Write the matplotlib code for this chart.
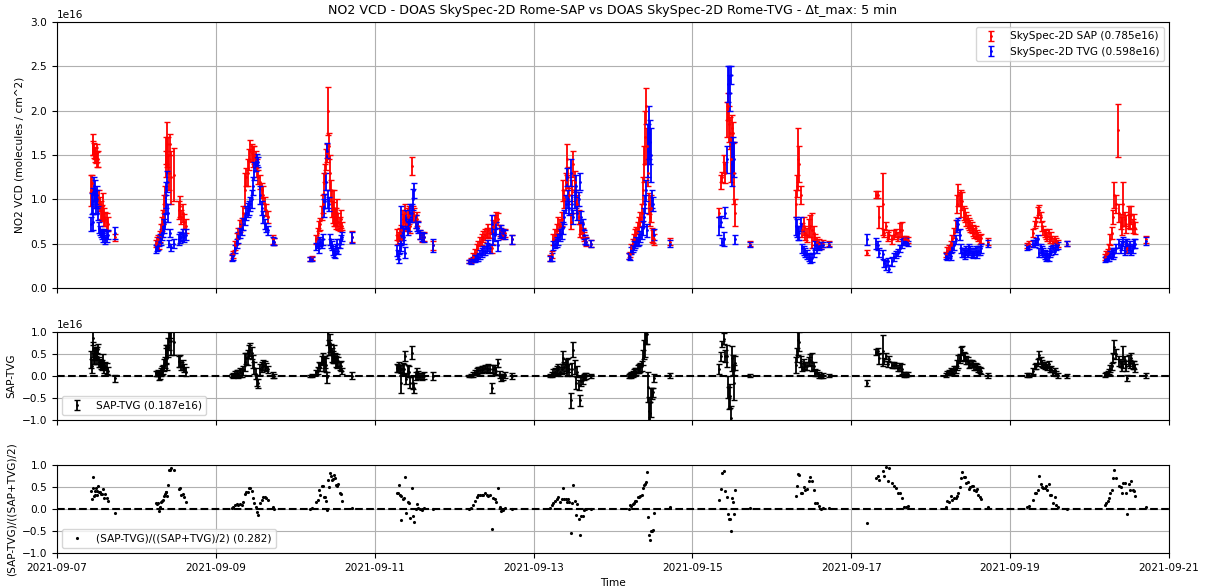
#NO2 VCD intercomparison: SkySpec-2D Rome-SAP vs Rome-TVG, absolute and relative differences
import numpy as np
import pandas as pd
import matplotlib
matplotlib.use('Agg')
import matplotlib.pyplot as plt
import matplotlib.dates as mdates

plt.rcParams['font.size'] = 7.6

nan = np.nan
SCALE = 1e16

DAYS = ['2021-09-07', '2021-09-08', '2021-09-09', '2021-09-10', '2021-09-11', '2021-09-12', '2021-09-13',
        '2021-09-14', '2021-09-15', '2021-09-16', '2021-09-17', '2021-09-18', '2021-09-19', '2021-09-20']

# UTC hour of each matched pair (dt <= 5 min), one list per day
HOURS = [
    [10.2, 10.5, 10.8, 11.0, 11.2, 11.4, 11.6, 11.8, 12.0, 12.2, 12.5, 12.8, 13.1, 13.4, 13.7, 14.0, 14.3, 14.6, 15.0, 15.3, 17.5],
    [5.8, 6.1, 6.4, 6.7, 7.0, 7.3, 7.6, 7.9, 8.2, 8.5, 8.8, 9.0, 9.2, 9.5, 9.8, 10.1, 10.6, 11.4, 12.8, 13.2, 13.6, 14.0, 14.5, 14.9],
    [4.8, 5.3, 5.8, 6.3, 6.8, 7.3, 7.8, 8.3, 8.8, 9.2, 9.6, 10.0, 10.4, 10.8, 11.2, 11.6, 12.0, 12.4, 12.8, 13.3, 13.8, 14.3, 14.8, 15.3, 15.8, 17.2, 17.6],
    [4.6, 5.2, 6.4, 6.8, 7.2, 7.6, 8.0, 8.4, 8.8, 9.1, 9.4, 9.7, 10.0, 10.3, 10.6, 10.9, 11.2, 11.5, 11.8, 12.1, 12.4, 12.7, 13.0, 13.4, 13.8, 14.2, 17.1],
    [6.6, 6.9, 7.2, 7.5, 7.8, 8.1, 8.5, 8.9, 9.2, 9.6, 10.0, 10.4, 10.8, 11.2, 11.6, 12.0, 12.4, 12.8, 13.2, 13.8, 14.3, 15.0, 17.5],
    [4.6, 5.2, 5.8, 6.3, 6.8, 7.3, 7.8, 8.3, 8.8, 9.3, 9.8, 10.3, 10.8, 11.3, 11.8, 12.3, 12.8, 13.3, 13.8, 14.3, 14.8, 15.4, 17.4],
    [5.0, 5.5, 6.0, 6.5, 7.0, 7.5, 8.0, 8.5, 8.9, 9.3, 9.7, 10.0, 10.4, 10.8, 11.2, 11.6, 12.0, 12.4, 12.8, 13.2, 13.6, 14.0, 14.4, 14.8, 15.2, 15.6, 16.0, 17.3],
    [4.7, 5.1, 5.5, 5.9, 6.3, 6.7, 7.1, 7.5, 7.9, 8.3, 8.7, 9.1, 9.4, 9.7, 10.0, 10.2, 10.5, 10.8, 11.1, 11.4, 11.8, 12.1, 12.5, 17.2],
    [8.0, 8.5, 9.0, 9.5, 10.0, 10.4, 10.7, 11.0, 11.3, 11.6, 11.9, 12.2, 12.6, 12.9, 17.3],
    [7.3, 7.6, 8.0, 8.3, 8.7, 9.1, 9.6, 10.1, 10.6, 11.1, 11.6, 12.1, 12.6, 13.1, 13.6, 14.2, 14.8, 15.5, 17.3],
    [4.9, 7.6, 8.0, 8.4, 9.5, 10.0, 10.5, 11.0, 11.5, 12.2, 12.8, 13.4, 14.0, 14.6, 15.2, 15.8, 16.4, 17.2],
    [4.5, 5.0, 5.5, 6.0, 6.5, 7.0, 7.5, 8.0, 8.4, 8.8, 9.2, 9.6, 10.0, 10.4, 10.8, 11.2, 11.6, 12.0, 12.4, 12.8, 13.2, 13.6, 14.0, 14.4, 14.8, 15.2, 17.4],
    [5.0, 5.6, 7.0, 7.4, 7.8, 8.3, 8.8, 9.2, 9.6, 10.0, 10.4, 10.8, 11.2, 11.6, 12.0, 12.5, 13.0, 13.5, 14.0, 14.6, 17.1],
    [4.7, 5.1, 5.5, 5.9, 6.3, 6.7, 7.1, 7.5, 7.9, 8.6, 9.0, 9.4, 9.8, 10.2, 10.6, 11.0, 11.4, 11.8, 12.2, 12.6, 13.0, 13.4, 13.8, 17.0],
]

# Rome-SAP VCD [1e16 molec/cm^2]
SAP = [
    [1.10, 1.18, 1.62, 1.58, 1.55, 1.52, 1.50, 1.48, 1.45, 1.52, 1.46, 1.00, 0.95, 0.88, 0.85, 0.92, 0.80, 0.78, 0.75, 0.72, 0.57],
    [0.50, 0.52, 0.55, 0.50, 0.58, 0.65, 0.72, 0.80, 0.95, 1.05, 1.40, 1.55, 1.62, 1.50, 1.30, 1.62, 1.25, 1.28, 0.88, 0.92, 0.80, 0.85, 0.75, 0.70],
    [0.35, 0.38, 0.48, 0.56, 0.62, 0.70, 0.72, 0.85, 1.10, 1.25, 1.30, 1.45, 1.55, 1.52, 1.48, 1.50, 1.45, 1.35, 1.25, 1.20, 1.10, 1.05, 0.95, 0.88, 0.80, 0.55, 0.52],
    [0.33, 0.34, 0.55, 0.62, 0.70, 0.72, 0.85, 0.95, 1.18, 1.30, 1.45, 1.52, 2.00, 1.60, 1.30, 1.10, 0.95, 0.85, 0.90, 0.80, 0.78, 0.85, 0.75, 0.72, 0.78, 0.70, 0.58],
    [0.60, 0.55, 0.58, 0.62, 0.55, 0.65, 0.78, 0.75, 0.85, 0.72, 0.80, 0.82, 0.70, 1.38, 0.85, 0.82, 0.75, 0.78, 0.70, 0.60, 0.57, 0.58, 0.48],
    [0.30, 0.31, 0.35, 0.40, 0.45, 0.48, 0.52, 0.55, 0.58, 0.60, 0.62, 0.65, 0.62, 0.45, 0.70, 0.75, 0.80, 0.78, 0.65, 0.62, 0.60, 0.62, 0.55],
    [0.34, 0.38, 0.55, 0.60, 0.65, 0.72, 0.70, 0.78, 1.10, 1.00, 1.20, 1.45, 1.25, 1.05, 0.75, 1.10, 1.40, 1.20, 1.00, 0.95, 0.80, 0.65, 0.68, 0.62, 0.58, 0.55, 0.52, 0.50],
    [0.36, 0.38, 0.45, 0.50, 0.55, 0.60, 0.62, 0.68, 0.72, 0.78, 0.85, 1.10, 1.40, 1.70, 2.05, 1.60, 1.30, 0.95, 0.80, 0.90, 0.60, 0.58, 0.55, 0.52],
    [0.85, 1.20, 1.25, 1.40, 1.30, 1.90, 2.05, 1.85, 1.75, 1.45, 1.80, 1.75, 1.30, 0.85, 0.50],
    [0.95, 1.15, 1.45, 1.40, 1.05, 0.65, 0.70, 0.62, 0.60, 0.68, 0.70, 0.65, 0.62, 0.55, 0.52, 0.50, 0.48, 0.50, 0.50],
    [0.40, 1.05, 1.05, 0.80, 0.95, 0.62, 0.70, 0.58, 0.60, 0.55, 0.60, 0.62, 0.58, 0.65, 0.65, 0.55, 0.55, 0.54],
    [0.38, 0.42, 0.45, 0.48, 0.55, 0.62, 0.70, 0.95, 1.05, 1.00, 0.95, 0.98, 0.85, 0.82, 0.78, 0.75, 0.72, 0.70, 0.68, 0.65, 0.62, 0.64, 0.60, 0.58, 0.55, 0.56, 0.52],
    [0.48, 0.50, 0.62, 0.72, 0.75, 0.85, 0.88, 0.80, 0.70, 0.65, 0.62, 0.60, 0.58, 0.62, 0.55, 0.58, 0.52, 0.55, 0.52, 0.50, 0.50],
    [0.35, 0.38, 0.40, 0.45, 0.55, 0.62, 0.80, 1.05, 0.95, 1.78, 0.85, 0.75, 0.70, 0.95, 0.78, 0.72, 0.45, 0.80, 0.75, 0.82, 0.70, 0.75, 0.68, 0.55],
]

# Rome-TVG VCD [1e16 molec/cm^2]
TVG = [
    [0.72, 0.95, 0.75, 0.98, 1.15, 1.10, 1.00, 0.92, 1.05, 1.00, 0.85, 0.68, 0.65, 0.62, 0.60, 0.58, 0.62, 0.55, 0.58, 0.60, 0.62],
    [0.44, 0.46, 0.48, 0.52, 0.56, 0.55, 0.60, 0.65, 0.70, 0.75, 0.95, 1.05, 1.20, 0.85, 0.50, 0.62, 0.46, 0.50, 0.55, 0.57, 0.58, 0.60, 0.57, 0.60],
    [0.34, 0.36, 0.44, 0.50, 0.57, 0.62, 0.66, 0.72, 0.78, 0.85, 0.88, 0.90, 0.95, 1.00, 1.15, 1.32, 1.40, 1.45, 1.42, 1.05, 0.90, 0.80, 0.72, 0.68, 0.65, 0.53, 0.52],
    [0.33, 0.33, 0.47, 0.50, 0.45, 0.52, 0.50, 0.55, 0.90, 0.98, 1.20, 1.55, 1.00, 0.95, 0.55, 0.50, 0.48, 0.42, 0.40, 0.38, 0.45, 0.50, 0.42, 0.50, 0.55, 0.58, 0.57],
    [0.42, 0.38, 0.33, 0.45, 0.70, 0.48, 0.62, 0.58, 0.40, 0.78, 0.68, 0.72, 0.85, 0.85, 1.00, 1.10, 0.75, 0.70, 0.68, 0.60, 0.58, 0.57, 0.48],
    [0.30, 0.30, 0.32, 0.33, 0.34, 0.35, 0.38, 0.40, 0.42, 0.42, 0.45, 0.48, 0.45, 0.72, 0.55, 0.60, 0.68, 0.48, 0.62, 0.65, 0.62, 0.60, 0.55],
    [0.33, 0.35, 0.48, 0.50, 0.52, 0.55, 0.60, 0.62, 0.68, 0.80, 0.95, 1.25, 1.00, 0.90, 1.30, 0.95, 0.80, 1.00, 1.15, 0.85, 1.00, 1.20, 0.80, 0.72, 0.60, 0.55, 0.52, 0.50],
    [0.36, 0.35, 0.42, 0.45, 0.48, 0.50, 0.52, 0.52, 0.55, 0.58, 0.62, 0.68, 0.80, 0.95, 1.10, 0.65, 1.55, 1.75, 1.65, 1.50, 1.00, 0.95, 0.60, 0.50],
    [0.70, 0.75, 0.52, 0.55, 0.85, 1.45, 2.30, 2.35, 2.20, 2.40, 1.40, 1.50, 1.45, 0.55, 0.49],
    [0.70, 0.68, 0.62, 0.62, 0.72, 0.45, 0.42, 0.40, 0.38, 0.35, 0.33, 0.34, 0.40, 0.48, 0.45, 0.47, 0.48, 0.49, 0.49],
    [0.55, 0.50, 0.48, 0.40, 0.38, 0.28, 0.25, 0.30, 0.22, 0.30, 0.35, 0.38, 0.40, 0.45, 0.50, 0.52, 0.52, 0.50],
    [0.36, 0.35, 0.38, 0.36, 0.45, 0.48, 0.55, 0.70, 0.72, 0.60, 0.45, 0.40, 0.40, 0.38, 0.42, 0.40, 0.45, 0.42, 0.40, 0.38, 0.40, 0.42, 0.38, 0.42, 0.42, 0.45, 0.50],
    [0.46, 0.47, 0.50, 0.50, 0.52, 0.55, 0.40, 0.45, 0.42, 0.40, 0.38, 0.35, 0.37, 0.35, 0.40, 0.42, 0.45, 0.42, 0.47, 0.48, 0.50],
    [0.32, 0.33, 0.33, 0.35, 0.38, 0.40, 0.38, 0.40, 0.45, nan, 0.50, 0.45, 0.48, 0.52, 0.42, 0.50, 0.50, 0.45, 0.48, 0.42, 0.45, 0.50, 0.50, 0.53],
]

SAP_ERR = [
    [0.18, 0.10, 0.12, 0.08, 0.08, 0.07, 0.08, 0.07, 0.08, 0.10, 0.09, 0.10, 0.08, 0.10, 0.09, 0.15, 0.10, 0.08, 0.10, 0.08, 0.04],
    [0.04, 0.05, 0.05, 0.06, 0.06, 0.07, 0.08, 0.08, 0.10, 0.10, 0.15, 0.15, 0.25, 0.20, 0.20, 0.12, 0.30, 0.30, 0.10, 0.12, 0.08, 0.10, 0.08, 0.08],
    [0.03, 0.04, 0.05, 0.06, 0.06, 0.07, 0.07, 0.08, 0.20, 0.10, 0.15, 0.12, 0.12, 0.10, 0.12, 0.10, 0.10, 0.10, 0.08, 0.08, 0.08, 0.10, 0.08, 0.07, 0.07, 0.05, 0.04],
    [0.02, 0.02, 0.05, 0.06, 0.06, 0.07, 0.08, 0.10, 0.12, 0.10, 0.12, 0.10, 0.27, 0.15, 0.20, 0.12, 0.15, 0.12, 0.20, 0.10, 0.12, 0.15, 0.10, 0.08, 0.10, 0.05, 0.06],
    [0.06, 0.05, 0.05, 0.06, 0.05, 0.06, 0.10, 0.08, 0.10, 0.08, 0.10, 0.10, 0.08, 0.10, 0.08, 0.08, 0.07, 0.08, 0.06, 0.05, 0.05, 0.05, 0.05],
    [0.02, 0.03, 0.04, 0.04, 0.05, 0.05, 0.05, 0.06, 0.06, 0.06, 0.06, 0.07, 0.06, 0.05, 0.07, 0.07, 0.06, 0.07, 0.06, 0.06, 0.05, 0.05, 0.05],
    [0.03, 0.04, 0.06, 0.06, 0.07, 0.08, 0.08, 0.08, 0.12, 0.10, 0.10, 0.17, 0.12, 0.10, 0.08, 0.12, 0.15, 0.12, 0.10, 0.10, 0.08, 0.07, 0.07, 0.06, 0.05, 0.05, 0.05, 0.04],
    [0.03, 0.03, 0.05, 0.05, 0.06, 0.06, 0.07, 0.07, 0.08, 0.08, 0.10, 0.15, 0.20, 0.30, 0.20, 0.20, 0.15, 0.12, 0.10, 0.15, 0.08, 0.07, 0.06, 0.04],
    [0.05, 0.08, 0.06, 0.10, 0.12, 0.20, 0.15, 0.20, 0.18, 0.25, 0.15, 0.12, 0.35, 0.15, 0.03],
    [0.15, 0.12, 0.35, 0.20, 0.10, 0.08, 0.10, 0.08, 0.08, 0.10, 0.12, 0.20, 0.08, 0.06, 0.05, 0.05, 0.04, 0.04, 0.03],
    [0.03, 0.04, 0.04, 0.12, 0.35, 0.05, 0.05, 0.05, 0.05, 0.05, 0.05, 0.05, 0.05, 0.08, 0.10, 0.04, 0.04, 0.03],
    [0.03, 0.04, 0.04, 0.05, 0.05, 0.06, 0.07, 0.10, 0.12, 0.08, 0.15, 0.10, 0.08, 0.08, 0.08, 0.07, 0.07, 0.07, 0.06, 0.06, 0.06, 0.06, 0.05, 0.05, 0.05, 0.05, 0.04],
    [0.03, 0.03, 0.05, 0.04, 0.05, 0.06, 0.06, 0.06, 0.06, 0.05, 0.05, 0.05, 0.05, 0.05, 0.04, 0.05, 0.04, 0.04, 0.04, 0.04, 0.03],
    [0.03, 0.04, 0.04, 0.05, 0.06, 0.07, 0.08, 0.15, 0.10, 0.30, 0.10, 0.08, 0.10, 0.25, 0.08, 0.10, 0.05, 0.12, 0.08, 0.10, 0.08, 0.08, 0.07, 0.04],
]

TVG_ERR = [
    [0.08, 0.12, 0.10, 0.15, 0.10, 0.12, 0.10, 0.08, 0.10, 0.10, 0.08, 0.06, 0.05, 0.05, 0.05, 0.06, 0.05, 0.05, 0.06, 0.05, 0.07],
    [0.04, 0.04, 0.05, 0.05, 0.05, 0.06, 0.06, 0.07, 0.08, 0.08, 0.10, 0.15, 0.12, 0.10, 0.04, 0.04, 0.04, 0.05, 0.06, 0.06, 0.05, 0.06, 0.05, 0.06],
    [0.03, 0.04, 0.05, 0.05, 0.06, 0.06, 0.06, 0.07, 0.07, 0.08, 0.08, 0.08, 0.08, 0.10, 0.10, 0.10, 0.08, 0.06, 0.06, 0.10, 0.08, 0.07, 0.06, 0.05, 0.05, 0.04, 0.04],
    [0.02, 0.02, 0.04, 0.05, 0.05, 0.05, 0.05, 0.06, 0.10, 0.08, 0.10, 0.08, 0.10, 0.08, 0.06, 0.05, 0.05, 0.05, 0.05, 0.04, 0.05, 0.05, 0.04, 0.05, 0.05, 0.05, 0.06],
    [0.06, 0.05, 0.05, 0.06, 0.22, 0.06, 0.08, 0.08, 0.06, 0.10, 0.08, 0.08, 0.10, 0.10, 0.12, 0.08, 0.07, 0.06, 0.06, 0.05, 0.05, 0.05, 0.07],
    [0.02, 0.03, 0.03, 0.04, 0.04, 0.04, 0.05, 0.05, 0.05, 0.05, 0.06, 0.06, 0.05, 0.10, 0.06, 0.07, 0.07, 0.06, 0.06, 0.06, 0.05, 0.05, 0.05],
    [0.03, 0.04, 0.05, 0.05, 0.06, 0.06, 0.07, 0.07, 0.07, 0.08, 0.10, 0.10, 0.10, 0.08, 0.15, 0.10, 0.08, 0.10, 0.12, 0.08, 0.08, 0.10, 0.07, 0.06, 0.05, 0.05, 0.04, 0.04],
    [0.03, 0.03, 0.04, 0.04, 0.05, 0.05, 0.05, 0.05, 0.06, 0.06, 0.07, 0.08, 0.10, 0.10, 0.12, 0.07, 0.30, 0.30, 0.25, 0.30, 0.10, 0.08, 0.06, 0.04],
    [0.10, 0.06, 0.04, 0.08, 0.06, 0.15, 0.20, 0.15, 0.20, 0.10, 0.25, 0.20, 0.20, 0.05, 0.03],
    [0.10, 0.10, 0.08, 0.08, 0.08, 0.05, 0.05, 0.05, 0.05, 0.05, 0.05, 0.05, 0.05, 0.05, 0.05, 0.04, 0.04, 0.03, 0.03],
    [0.06, 0.06, 0.05, 0.05, 0.05, 0.04, 0.05, 0.04, 0.04, 0.05, 0.05, 0.04, 0.04, 0.04, 0.05, 0.04, 0.04, 0.03],
    [0.03, 0.03, 0.04, 0.04, 0.04, 0.05, 0.05, 0.07, 0.07, 0.06, 0.05, 0.05, 0.05, 0.05, 0.05, 0.05, 0.05, 0.05, 0.05, 0.04, 0.05, 0.05, 0.04, 0.05, 0.05, 0.05, 0.04],
    [0.03, 0.03, 0.04, 0.04, 0.04, 0.05, 0.05, 0.05, 0.05, 0.05, 0.05, 0.05, 0.05, 0.05, 0.05, 0.05, 0.04, 0.04, 0.04, 0.04, 0.03],
    [0.03, 0.03, 0.03, 0.04, 0.04, 0.05, 0.05, 0.05, 0.05, nan, 0.05, 0.05, 0.05, 0.05, 0.05, 0.05, 0.05, 0.05, 0.05, 0.05, 0.05, 0.05, 0.05, 0.04],
]

LABEL_SAP = 'SkySpec-2D SAP (0.785e16)'
LABEL_TVG = 'SkySpec-2D TVG (0.598e16)'
LABEL_DIFF = 'SAP-TVG (0.187e16)'
LABEL_REL = '(SAP-TVG)/((SAP+TVG)/2) (0.282)'
TITLE = 'NO2 VCD - DOAS SkySpec-2D Rome-SAP vs DOAS SkySpec-2D Rome-TVG - \u0394t_max: 5 min'


def flatten(rows):
    return np.concatenate([np.asarray(r, dtype=float) for r in rows])


def build_frame():
    times = []
    for day, hrs in zip(DAYS, HOURS):
        times.extend(pd.Timestamp(day) + pd.to_timedelta(hrs, unit='h'))
    df = pd.DataFrame({'time': times,
                       'sap': flatten(SAP) * SCALE, 'tvg': flatten(TVG) * SCALE,
                       'sap_err': flatten(SAP_ERR) * SCALE, 'tvg_err': flatten(TVG_ERR) * SCALE})
    df['diff'] = df['sap'] - df['tvg']
    df['diff_err'] = np.sqrt(df['sap_err'] ** 2 + df['tvg_err'] ** 2)
    df['rel'] = df['diff'] / ((df['sap'] + df['tvg']) / 2)
    return df


def main():
    df = build_frame()
    eb = dict(fmt='.', markersize=2, capsize=2, elinewidth=1.3, capthick=1)

    fig = plt.figure(figsize=(12.07, 5.86), dpi=100)
    ax1 = fig.add_axes([0.0472, 0.5085, 0.9213, 0.454])
    ax2 = fig.add_axes([0.0472, 0.2833, 0.9213, 0.1501], sharex=ax1)
    ax3 = fig.add_axes([0.0472, 0.0563, 0.9213, 0.1502], sharex=ax1)

    ax1.errorbar(df['time'], df['sap'], yerr=df['sap_err'], color='red', label=LABEL_SAP, **eb)
    ax1.errorbar(df['time'], df['tvg'], yerr=df['tvg_err'], color='blue', label=LABEL_TVG, **eb)
    ax1.set_ylim(0, 3e16)
    ax1.set_ylabel('NO2 VCD (molecules / cm^2)')
    ax1.set_title(TITLE)
    ax1.legend(loc='upper right')

    ax2.errorbar(df['time'], df['diff'], yerr=df['diff_err'], color='black', label=LABEL_DIFF, **eb)
    ax2.axhline(0, color='black', ls='--', lw=1.5)
    ax2.set_ylim(-1e16, 1e16)
    ax2.set_ylabel('SAP-TVG')
    ax2.legend(loc='lower left')

    ax3.plot(df['time'], df['rel'], '.', color='black', markersize=2.5, label=LABEL_REL)
    ax3.axhline(0, color='black', ls='--', lw=1.5)
    ax3.set_ylim(-1, 1)
    ax3.set_ylabel('(SAP-TVG)/((SAP+TVG)/2)')
    ax3.set_xlabel('Time')
    ax3.legend(loc='lower left')

    ticks = pd.date_range('2021-09-07', '2021-09-21', freq='2D')
    ax3.set_xlim(pd.Timestamp('2021-09-07'), pd.Timestamp('2021-09-21'))
    ax3.set_xticks(ticks)
    ax3.xaxis.set_major_formatter(mdates.DateFormatter('%Y-%m-%d'))
    for ax in (ax1, ax2, ax3):
        ax.grid(True)
        ax.set_yticks(ax.get_yticks())
    for ax in (ax1, ax2):
        plt.setp(ax.get_xticklabels(), visible=False)

    fig.savefig('out.png', dpi=100)


if __name__ == '__main__':
    main()
